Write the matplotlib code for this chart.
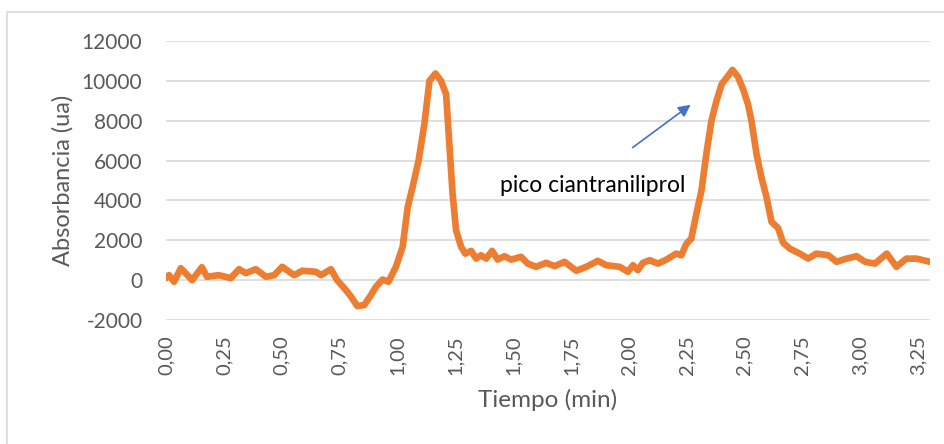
import matplotlib.pyplot as plt
from matplotlib.patches import Rectangle

tiempo = [0.000, 0.013, 0.035, 0.064, 0.113, 0.155, 0.177, 0.229, 0.280, 0.316,
          0.345, 0.388, 0.432, 0.468, 0.502, 0.554, 0.589, 0.648, 0.670, 0.713,
          0.740, 0.778, 0.800, 0.827, 0.857, 0.886, 0.908, 0.936, 0.962, 0.994,
          1.023, 1.045, 1.066, 1.092, 1.117, 1.139, 1.165, 1.189, 1.211, 1.225,
          1.239, 1.254, 1.276, 1.294, 1.319, 1.341, 1.362, 1.384, 1.410, 1.434,
          1.463, 1.492, 1.535, 1.564, 1.600, 1.644, 1.680, 1.723, 1.774, 1.817,
          1.867, 1.903, 1.961, 1.997, 2.019, 2.040, 2.062, 2.091, 2.127, 2.163,
          2.206, 2.228, 2.250, 2.271, 2.293, 2.315, 2.336, 2.358, 2.380, 2.402,
          2.430, 2.449, 2.473, 2.495, 2.516, 2.531, 2.553, 2.574, 2.596, 2.618,
          2.646, 2.668, 2.697, 2.740, 2.776, 2.812, 2.863, 2.899, 2.942, 2.986,
          3.022, 3.065, 3.116, 3.158, 3.201, 3.245, 3.274, 3.303]
absorbancia = [100, 250, -80, 600, 0, 650, 170, 250, 100, 550,
               350, 550, 170, 250, 670, 250, 470, 420, 250, 550,
               0, -500, -830, -1300, -1250, -750, -330, 30, -80, 670,
               1670, 3670, 4670, 6000, 7830, 10000, 10370, 10000, 9330, 6830,
               4330, 2500, 1670, 1330, 1470, 1080, 1250, 1080, 1470, 1030,
               1200, 1030, 1170, 830, 670, 870, 700, 920, 470, 670,
               970, 750, 670, 420, 750, 500, 870, 1000, 830, 1030,
               1330, 1250, 1830, 2080, 3330, 4500, 6330, 8000, 9000, 9830,
               10250, 10550, 10200, 9580, 8830, 8000, 6330, 5170, 4170, 2920,
               2620, 1880, 1580, 1330, 1080, 1330, 1250, 920, 1080, 1200,
               920, 830, 1330, 670, 1080, 1080, 1000, 920]

x_ticks = [0.0, 0.25, 0.5, 0.75, 1.0, 1.25, 1.5, 1.75, 2.0, 2.25, 2.5, 2.75, 3.0, 3.25]
x_labels = ['0,00', '0,25', '0,50', '0,75', '1,00', '1,25', '1,50', '1,75',
            '2,00', '2,25', '2,50', '2,75', '3,00', '3,25']
y_ticks = [-2000, 0, 2000, 4000, 6000, 8000, 10000, 12000]

plt.rcParams['font.family'] = ['Lato', 'DejaVu Sans']

W, H = 944, 444
fig = plt.figure(figsize=(W / 100, H / 100), dpi=100)

# borde del area del grafico
fig.patches.append(Rectangle((7 / W, -0.1), 1.2, 1.1 - 12 / H, transform=fig.transFigure,
                             fill=False, edgecolor='#D9D9D9', lw=1.2))

ax = fig.add_axes([166 / W, 1 - 320 / H, (930 - 166) / W, (320 - 41) / H])
ax.plot(tiempo, absorbancia, color='#ED7D31', lw=4.8, solid_joinstyle='round',
        solid_capstyle='round', zorder=3)

ax.set_xlim(tiempo[0], tiempo[-1])
ax.set_ylim(-2000, 12000)
ax.set_yticks(y_ticks)
ax.set_yticklabels([str(v) for v in y_ticks])
ax.set_xticks(x_ticks)
ax.set_xticklabels(x_labels, rotation=90)

ax.grid(axis='y', color='#D9D9D9', lw=1.2)
ax.set_axisbelow(True)
for s in ax.spines.values():
    s.set_visible(False)
ax.tick_params(axis='y', length=0, pad=17, labelsize=15, labelcolor='#595959')
ax.tick_params(axis='x', length=0, pad=11, labelsize=14.5, labelcolor='#595959')

ax.set_ylabel('Absorbancia (ua)', fontsize=17, color='#595959', labelpad=6)
ax.set_xlabel('Tiempo (min)', fontsize=17.5, color='#595959', labelpad=10)

# anotacion del pico
ax.text(1.442, 4750, 'pico ciantraniliprol', fontsize=16.5, color='black',
        va='center', ha='left')
ax.annotate('', xy=(2.268, 8800), xytext=(2.017, 6650),
            arrowprops=dict(arrowstyle='-|>', mutation_scale=18, lw=1.2,
                            color='#4472C4', shrinkA=0, shrinkB=0))

fig.savefig('out.png', dpi=100)
